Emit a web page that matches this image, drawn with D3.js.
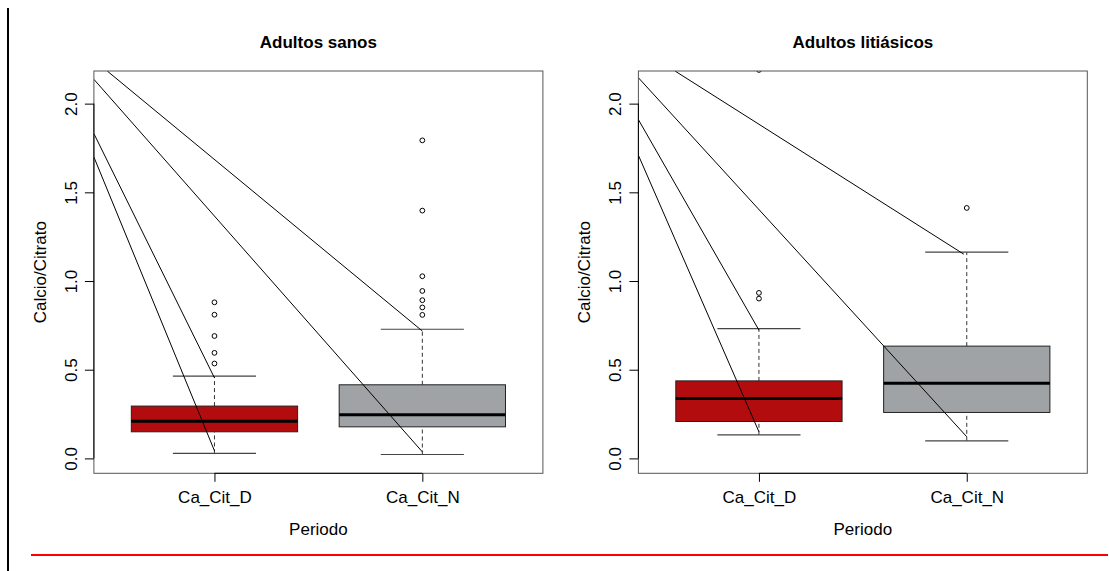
<!DOCTYPE html>
<html>
<head>
<meta charset="utf-8">
<script src="https://cdn.jsdelivr.net/npm/d3@7"></script>
<style>
  body { margin: 0; background: #fff; }
  svg { display: block; font-family: "Liberation Sans", Arial, sans-serif; }
</style>
</head>
<body>
<div id="chart"></div>
<script>
const WIDTH = 1109
const HEIGHT = 571

const groups = ["Ca_Cit_D", "Ca_Cit_N"]
const panelTitles = ["Adultos sanos", "Adultos litiásicos"]
const yTicks = [0, 0.5, 1.0, 1.5, 2.0]
const boxColors = ["#b30c0e", "#9fa3a5"]

// [lower whisker, Q1, median, Q3, upper whisker]
const sanosStats = [
    [0.028, 0.150, 0.210, 0.295, 0.464],
    [0.022, 0.178, 0.246, 0.415, 0.728]
]
const sanosOutliers = [
    [0.535, 0.595, 0.690, 0.810, 0.880],
    [0.809, 0.851, 0.892, 0.944, 1.027, 1.397, 1.793]
]
const litiasicosStats = [
    [0.133, 0.208, 0.338, 0.437, 0.732],
    [0.099, 0.259, 0.424, 0.633, 1.163]
]
const litiasicosOutliers = [
    [0.901, 0.933, 2.190],
    [1.412]
]

// stray segments drawn over each plot: [x0, y0, x1, y1] in data units
const sanosLines = [
    [0.484, 2.184, 2.0, 0.718],
    [0.42, 2.137, 2.0, 0.037],
    [0.42, 1.831, 1.0, 0.454],
    [0.42, 1.699, 1.0, 0.043]
]
const litiasicosLines = [
    [0.596, 2.184, 1.986, 1.151],
    [0.42, 2.146, 2.0, 0.122],
    [0.42, 1.910, 1.0, 0.723],
    [0.42, 1.709, 1.0, 0.150]
]

const svg = d3.select("#chart").append("svg")
    .attr("width", WIDTH)
    .attr("height", HEIGHT)

// page decorations
svg.append("line")
    .attr("x1", 8).attr("x2", 8)
    .attr("y1", 8).attr("y2", HEIGHT)
    .attr("stroke", "#000").attr("stroke-width", 2)

svg.append("line")
    .attr("x1", 31).attr("x2", 1108)
    .attr("y1", 555).attr("y2", 555)
    .attr("stroke", "#ff0000").attr("stroke-width", 2)

const panels = [
    { title: panelTitles[0], stats: sanosStats, outliers: sanosOutliers, lines: sanosLines, left: 93.9, right: 542.9 },
    { title: panelTitles[1], stats: litiasicosStats, outliers: litiasicosOutliers, lines: litiasicosLines, left: 638.4, right: 1087.3 }
]

const TOP = 71
const BOTTOM = 473.3

const y = d3.scaleLinear()
    .domain([-0.084, 2.184])
    .range([BOTTOM, TOP])

panels.forEach((p, pi) => {
    const x = d3.scaleLinear()
        .domain([0.42, 2.58])
        .range([p.left, p.right])

    const g = svg.append("g")
    const clipId = "clip" + pi

    g.append("clipPath").attr("id", clipId)
        .append("rect")
        .attr("x", p.left).attr("y", TOP)
        .attr("width", p.right - p.left).attr("height", BOTTOM - TOP)

    const unit = x(2) - x(1)
    const boxes = g.append("g")
        .selectAll("g")
        .data(p.stats)
        .join("g")

    // whiskers (dashed)
    boxes.append("line")
        .attr("x1", (d, i) => x(i + 1)).attr("x2", (d, i) => x(i + 1))
        .attr("y1", d => y(d[3])).attr("y2", d => y(d[4]))
        .attr("stroke", "#333").attr("stroke-dasharray", "4,3")
    boxes.append("line")
        .attr("x1", (d, i) => x(i + 1)).attr("x2", (d, i) => x(i + 1))
        .attr("y1", d => y(d[0])).attr("y2", d => y(d[1]))
        .attr("stroke", "#333").attr("stroke-dasharray", "4,3")

    // staples
    boxes.each(function (d, i) {
        d3.select(this).selectAll(".staple")
            .data([d[0], d[4]])
            .join("line")
            .attr("class", "staple")
            .attr("x1", x(i + 1) - unit * 0.2)
            .attr("x2", x(i + 1) + unit * 0.2)
            .attr("y1", v => y(v)).attr("y2", v => y(v))
            .attr("stroke", "#444").attr("stroke-width", 1.2)
    })

    boxes.append("rect")
        .attr("x", (d, i) => x(i + 1) - unit * 0.4)
        .attr("width", unit * 0.8)
        .attr("y", d => y(d[3]))
        .attr("height", d => y(d[1]) - y(d[3]))
        .attr("fill", (d, i) => boxColors[i])
        .attr("stroke", "#222")

    boxes.append("line")
        .attr("x1", (d, i) => x(i + 1) - unit * 0.4)
        .attr("x2", (d, i) => x(i + 1) + unit * 0.4)
        .attr("y1", d => y(d[2])).attr("y2", d => y(d[2]))
        .attr("stroke", "#000").attr("stroke-width", 3)

    // outliers
    const pts = p.outliers.flatMap((arr, i) => arr.map(v => ({ grp: i + 1, v: v })))
    g.append("g")
        .attr("clip-path", `url(#${clipId})`)
        .selectAll("circle")
        .data(pts)
        .join("circle")
        .attr("cx", d => x(d.grp))
        .attr("cy", d => y(d.v))
        .attr("r", 2.4)
        .attr("fill", "none")
        .attr("stroke", "#000")

    // stray lines
    g.append("g")
        .attr("clip-path", `url(#${clipId})`)
        .selectAll("line")
        .data(p.lines)
        .join("line")
        .attr("x1", d => x(d[0])).attr("y1", d => y(d[1]))
        .attr("x2", d => x(d[2])).attr("y2", d => y(d[3]))
        .attr("stroke", "#000")

    // frame
    g.append("rect")
        .attr("x", p.left).attr("y", TOP)
        .attr("width", p.right - p.left).attr("height", BOTTOM - TOP)
        .attr("fill", "none").attr("stroke", "#555")

    // y axis
    const yAxis = g.append("g")
        .attr("transform", `translate(${p.left},0)`)
        .call(d3.axisLeft(y).tickValues(yTicks).tickFormat(d3.format(".1f")).tickSize(9))
    yAxis.select(".domain").remove()
    yAxis.append("line")
        .attr("y1", y(yTicks[0])).attr("y2", y(yTicks[yTicks.length - 1]))
        .attr("stroke", "#000")
    yAxis.selectAll(".tick line").attr("stroke", "#000")
    yAxis.selectAll(".tick text")
        .attr("transform", "rotate(-90)")
        .attr("x", 0).attr("y", -17.2).attr("dy", 0)
        .attr("text-anchor", "middle")
        .attr("font-size", 17)
        .attr("font-family", "Liberation Sans, Arial, sans-serif")
        .attr("fill", "#000")

    // x axis
    const xAxis = g.append("g")
        .attr("transform", `translate(0,${BOTTOM})`)
        .call(d3.axisBottom(x).tickValues([1, 2]).tickFormat((d, i) => groups[i]).tickSize(8.5))
    xAxis.select(".domain").remove()
    xAxis.append("line")
        .attr("x1", x(1)).attr("x2", x(2))
        .attr("stroke", "#000")
    xAxis.selectAll(".tick line").attr("stroke", "#000")
    xAxis.selectAll(".tick text")
        .attr("y", 29.7).attr("dy", 0)
        .attr("font-size", 17)
        .attr("font-family", "Liberation Sans, Arial, sans-serif")
        .attr("fill", "#000")

    // titles and labels
    const cx = (p.left + p.right) / 2
    g.append("text")
        .attr("x", cx).attr("y", 47.7)
        .attr("text-anchor", "middle")
        .attr("font-size", 17).attr("font-weight", "bold")
        .text(p.title)

    g.append("text")
        .attr("x", cx).attr("y", 535)
        .attr("text-anchor", "middle")
        .attr("font-size", 17)
        .text("Periodo")

    g.append("text")
        .attr("transform", `translate(${p.left - 48},${(TOP + BOTTOM) / 2}) rotate(-90)`)
        .attr("text-anchor", "middle")
        .attr("font-size", 17)
        .text("Calcio/Citrato")
})
</script>
</body>
</html>
